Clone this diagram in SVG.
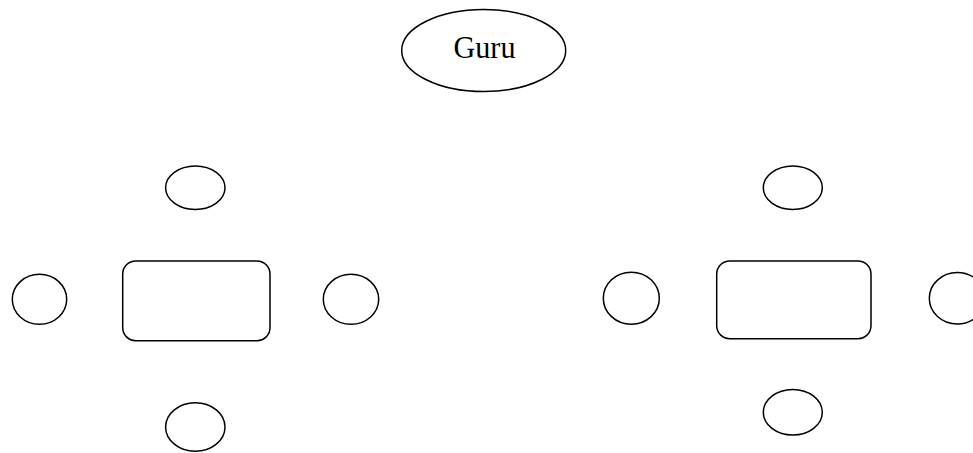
<svg xmlns="http://www.w3.org/2000/svg" width="973" height="453" viewBox="0 0 973 453">
<style>
.s{fill:#fff;stroke:#000;stroke-width:1.5}
.t{font-family:"Liberation Serif","Times New Roman",serif;font-size:32px;fill:#000}
</style>
<rect width="973" height="453" fill="#fff"/>
<g id="guru"><ellipse class="s" cx="483.7" cy="50.5" rx="82" ry="41"/><text class="t" x="484.5" y="58.3" text-anchor="middle" textLength="62" lengthAdjust="spacingAndGlyphs">Guru</text></g>
<g id="left-rect"><rect class="s" x="122.7" y="261" width="147.3" height="79.7" rx="13"/></g>
<g id="left-top"><ellipse class="s" cx="195.3" cy="187.7" rx="29.7" ry="21.7"/></g>
<g id="left-left"><ellipse class="s" cx="39.5" cy="299.3" rx="27.2" ry="25"/></g>
<g id="left-right"><ellipse class="s" cx="351" cy="299.3" rx="27.7" ry="25"/></g>
<g id="left-bottom"><ellipse class="s" cx="195.3" cy="427" rx="29.7" ry="24.3"/></g>
<g id="right-rect"><rect class="s" x="716.7" y="261" width="154.3" height="77.7" rx="13"/></g>
<g id="right-top"><ellipse class="s" cx="792.8" cy="187.7" rx="29.5" ry="21.7"/></g>
<g id="right-left"><ellipse class="s" cx="631.3" cy="298.2" rx="28" ry="26"/></g>
<g id="right-right"><ellipse class="s" cx="957.3" cy="298.3" rx="28" ry="25.7"/></g>
<g id="right-bottom"><ellipse class="s" cx="792.8" cy="412.2" rx="29.5" ry="22.8"/></g>
<g id="connectors"></g>
</svg>
